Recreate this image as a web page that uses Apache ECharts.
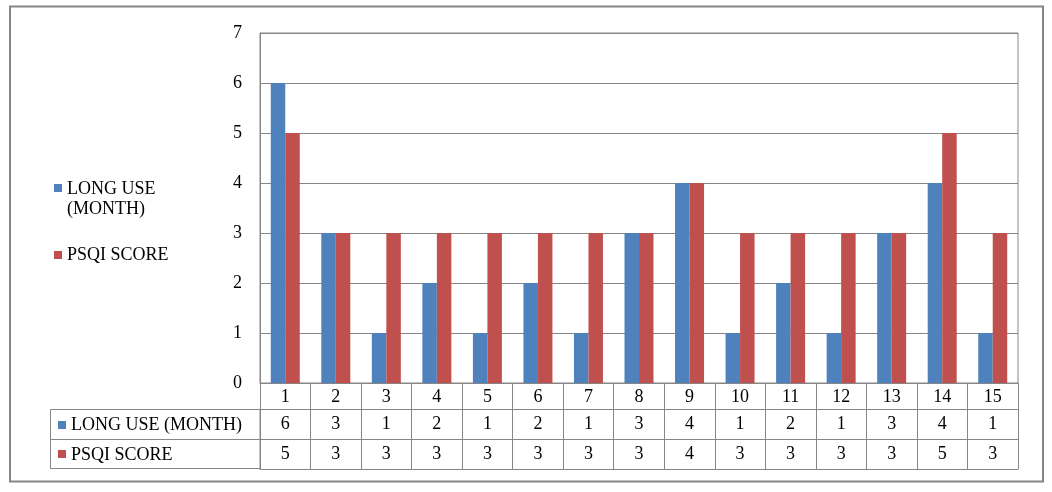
<!DOCTYPE html>
<html><head><meta charset="utf-8">
<script src="https://cdn.jsdelivr.net/npm/echarts@6/dist/echarts.min.js"></script>
<style>html,body{margin:0;padding:0;background:#fff}#c{width:1052px;height:492px}</style>
</head><body><div id="c"></div>
<script>
const categories = ['1','2','3','4','5','6','7','8','9','10','11','12','13','14','15'];
const longUse = [6,3,1,2,1,2,1,3,4,1,2,1,3,4,1];
const psqi = [5,3,3,3,3,3,3,3,4,3,3,3,3,5,3];
const seriesNames = ['LONG USE (MONTH)','PSQI SCORE'];
const colors = ['#4F81BD','#C0504D'];

const FONT = '"Liberation Serif", "Times New Roman", serif';
const GRAY = '#868686';
const FS = 18;

const chart = echarts.init(document.getElementById('c'), null, {renderer:'canvas'});
const baseX = {
  type:'category', data: categories, position:'bottom', gridIndex:0,
  boundaryGap:true,
  axisLine:{show:true, lineStyle:{color:GRAY, width:1}},
  axisTick:{show:false},
  splitLine:{show:false},
  axisLabel:{interval:0, fontFamily:FONT, fontSize:FS, color:'#000'}
};
chart.setOption({
  animation:false,
  color: colors,
  textStyle:{fontFamily:FONT},
  grid:{left:260, right:34, top:33, bottom:109, show:true, borderColor:GRAY, borderWidth:1, backgroundColor:'transparent'},
  legend:[
    {data:[seriesNames[0]], left:54, top:179, orient:'vertical', padding:0,
     itemWidth:8, itemHeight:40,
     icon:'path://M0 5H8V13H0Z M0 0H0.01V0.01H0Z M0 40H0.01V40.01H0Z',
     formatter:()=> 'LONG USE\n(MONTH)',
     textStyle:{fontFamily:FONT, fontSize:FS, lineHeight:20, color:'#000'}},
    {data:[seriesNames[1]], left:54, top:246, orient:'vertical', padding:0,
     itemWidth:8, itemHeight:8, icon:'rect',
     textStyle:{fontFamily:FONT, fontSize:FS, color:'#000'}}
  ],
  xAxis:[
    Object.assign({}, baseX, {
      axisTick:{show:true, length:86, alignWithLabel:false, lineStyle:{color:GRAY}},
      axisLabel:Object.assign({}, baseX.axisLabel, {margin:5})
    }),
    Object.assign({}, baseX, {offset:26,
      axisLabel:Object.assign({}, baseX.axisLabel, {margin:6, formatter:(v,i)=>String(longUse[i])})}),
    Object.assign({}, baseX, {offset:56,
      axisLabel:Object.assign({}, baseX.axisLabel, {margin:6, formatter:(v,i)=>String(psqi[i])})}),
    Object.assign({}, baseX, {offset:86, axisLabel:{show:false}})
  ],
  yAxis:{
    type:'value', min:0, max:7, interval:1,
    axisLine:{show:true, lineStyle:{color:GRAY}},
    axisTick:{show:false},
    splitLine:{show:true, lineStyle:{color:GRAY, width:1}},
    axisLabel:{margin:18, fontFamily:FONT, fontSize:FS, color:'#000'}
  },
  series:[
    {name:seriesNames[0], type:'bar', xAxisIndex:0, data:longUse, barWidth:14.5, barGap:'0%', itemStyle:{color:colors[0]}},
    {name:seriesNames[1], type:'bar', xAxisIndex:0, data:psqi, barWidth:14.5, barGap:'0%', itemStyle:{color:colors[1]}}
  ],
  graphic:[
    {type:'rect', shape:{x:10, y:6.5, width:1033, height:475}, style:{fill:null, stroke:GRAY, lineWidth:2}, silent:true},
    {type:'rect', shape:{x:50.5, y:409.5, width:209.5, height:59}, style:{fill:null, stroke:GRAY, lineWidth:1}, silent:true},
    {type:'line', shape:{x1:50.5, y1:439.5, x2:260, y2:439.5}, style:{stroke:GRAY, lineWidth:1}, silent:true},
    {type:'rect', shape:{x:58, y:421, width:8, height:8}, style:{fill:colors[0]}, silent:true},
    {type:'rect', shape:{x:58, y:450, width:8, height:8}, style:{fill:colors[1]}, silent:true},
    {type:'text', x:71, y:425, style:{text:seriesNames[0], font:FS+'px '+FONT, fill:'#000', verticalAlign:'middle'}, silent:true},
    {type:'text', x:71, y:455, style:{text:seriesNames[1], font:FS+'px '+FONT, fill:'#000', verticalAlign:'middle'}, silent:true}
  ]
});
</script>
</body></html>
